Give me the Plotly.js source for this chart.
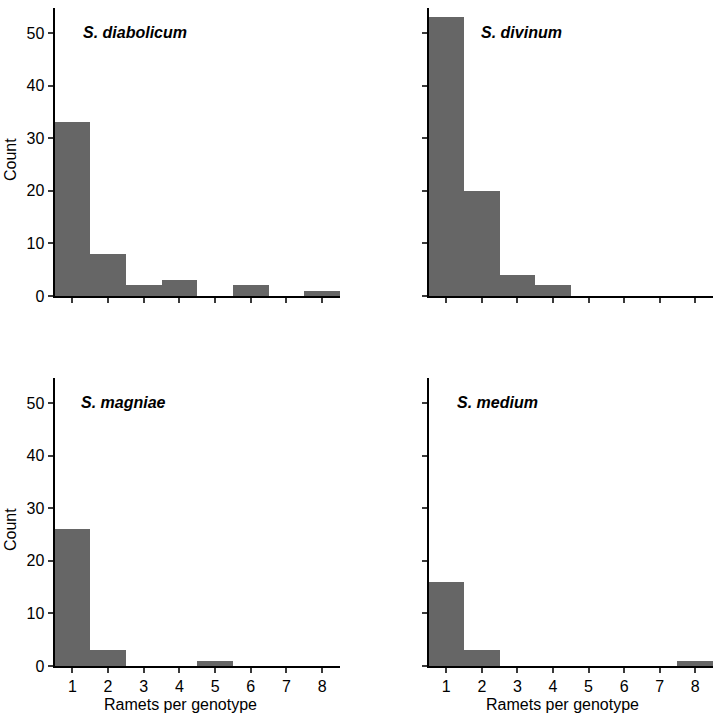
<!DOCTYPE html>
<html>
<head>
<meta charset="utf-8">
<script src="https://cdn.plot.ly/plotly-3.0.1.min.js"></script>
<style>html,body{margin:0;padding:0;background:#fff;}#chart{width:717px;height:713px;}</style>
</head>
<body>
<div id="chart"></div>
<script>
const ramets = [1, 2, 3, 4, 5, 6, 7, 8];
const tickLabels = ["1", "2", "3", "4", "5", "6", "7", "8"];
const species = ["S. diabolicum", "S. divinum", "S. magniae", "S. medium"];
const diabolicum = [33, 8, 2, 3, 0, 2, 0, 1];
const divinum = [53, 20, 4, 2, 0, 0, 0, 0];
const magniae = [26, 3, 0, 0, 1, 0, 0, 0];
const medium = [16, 3, 0, 0, 0, 0, 0, 1];
const yTicks = [0, 10, 20, 30, 40, 50];

const W = 717, H = 713;
const FONT = "Liberation Sans, Arial, Helvetica, sans-serif";
const barColor = "#666666";
const px = v => v / W;
const py = v => (H - v) / H;

const series = [diabolicum, divinum, magniae, medium];
const axIds = ["", "2", "3", "4"];
const traces = series.map((vals, i) => ({
  type: "bar",
  x: ramets,
  y: vals,
  xaxis: "x" + axIds[i],
  yaxis: "y" + axIds[i],
  width: 1,
  marker: {color: barColor, line: {width: 0}},
  showlegend: false,
  hoverinfo: "x+y"
}));

const xDomL = [px(54.5), px(340)];
const xDomR = [px(428.5), px(713)];
const yDomT = [py(296), py(8)];
const yDomB = [py(666), py(378)];

function xaxis(domain, anchor, showLabels) {
  return {
    domain: domain, anchor: anchor, range: [0.5, 8.5],
    tickmode: "array", tickvals: ramets, ticktext: tickLabels,
    showticklabels: showLabels,
    ticks: "outside", ticklen: 5, tickwidth: 2, tickcolor: "#3a3a3a",
    showline: true, linecolor: "#000", linewidth: 2,
    showgrid: false, zeroline: false,
    tickfont: {family: FONT, size: 16, color: "#000"},
    fixedrange: true
  };
}
function yaxis(domain, anchor, showLabels) {
  return {
    domain: domain, anchor: anchor, range: [0, 54.75],
    tickmode: "array", tickvals: yTicks,
    showticklabels: showLabels,
    ticks: "outside", ticklen: 5, tickwidth: 2, tickcolor: "#3a3a3a",
    showline: true, linecolor: "#000", linewidth: 2,
    showgrid: false, zeroline: false,
    tickfont: {family: FONT, size: 16, color: "#000"},
    fixedrange: true
  };
}

const speciesX = [1.25, 1.93, 1.2, 1.25];
const annotations = species.map((s, i) => ({
  text: "<b><i>" + s + "</i></b>",
  xref: "x" + axIds[i], yref: "y" + axIds[i],
  x: speciesX[i], y: 50, xanchor: "left", yanchor: "middle",
  showarrow: false,
  font: {family: FONT, size: 16, color: "#000"}
}));
[[160], [530]].forEach(([yc]) => annotations.push({
  text: "Count", xref: "paper", yref: "paper",
  x: px(10), y: py(yc), xanchor: "center", yanchor: "middle",
  textangle: -90, showarrow: false,
  font: {family: FONT, size: 16, color: "#000"}
}));
[180, 562].forEach(xc => annotations.push({
  text: "Ramets per genotype", xref: "paper", yref: "paper",
  x: px(xc), y: py(704), xanchor: "center", yanchor: "middle",
  showarrow: false,
  font: {family: FONT, size: 16, color: "#000"}
}));

const layout = {
  width: W, height: H,
  margin: {l: 0, r: 0, t: 0, b: 0},
  paper_bgcolor: "#fff", plot_bgcolor: "#fff",
  bargap: 0,
  font: {family: FONT, size: 16, color: "#000"},
  xaxis: xaxis(xDomL, "y", false),
  yaxis: yaxis(yDomT, "x", true),
  xaxis2: xaxis(xDomR, "y2", false),
  yaxis2: yaxis(yDomT, "x2", false),
  xaxis3: xaxis(xDomL, "y3", true),
  yaxis3: yaxis(yDomB, "x3", true),
  xaxis4: xaxis(xDomR, "y4", true),
  yaxis4: yaxis(yDomB, "x4", false),
  annotations: annotations
};

Plotly.newPlot("chart", traces, layout, {displayModeBar: false, staticPlot: true});
</script>
</body>
</html>
